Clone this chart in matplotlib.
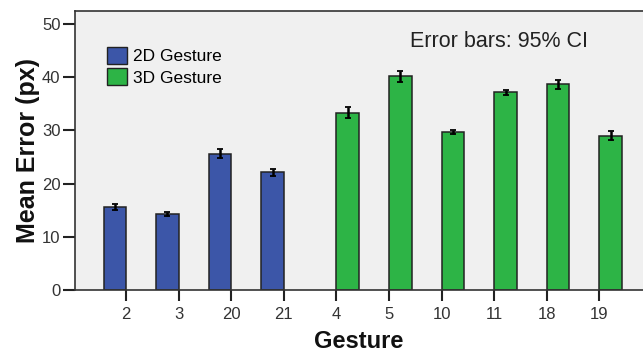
import numpy as np
import matplotlib
matplotlib.use("Agg")
import matplotlib.pyplot as plt
from matplotlib.patches import Patch

plt.rcParams['font.family'] = ['Liberation Sans', 'DejaVu Sans']

gestures = ['2', '3', '20', '21', '4', '5', '10', '11', '18', '19']
mean_2d = [15.6, 14.3, 25.6, 22.1]
ci_2d = [0.5, 0.4, 0.9, 0.7]
mean_3d = [33.3, 40.1, 29.7, 37.1, 38.6, 29.0]
ci_3d = [1.0, 1.05, 0.4, 0.55, 0.9, 0.8]

blue = '#3C56A8'
green = '#2DB446'

fig = plt.figure(figsize=(6.43, 3.55), dpi=100)
ax = fig.add_axes([75 / 643, 65 / 355, (643 - 75) / 643, 279 / 355])
ax.set_facecolor('#F0F0F0')

x = np.arange(len(gestures))
w = 0.43
x2 = x[:len(mean_2d)]
x3 = x[len(mean_2d):]

ax.bar(x2, mean_2d, width=-w, align='edge', color=blue, edgecolor='#222222', linewidth=1.1, zorder=2)
ax.bar(x3, mean_3d, width=w, align='edge', color=green, edgecolor='#222222', linewidth=1.1, zorder=2)
ax.errorbar(x2 - w / 2, mean_2d, yerr=ci_2d, fmt='none', ecolor='black', elinewidth=1.8, capsize=2.5, capthick=1.3, zorder=3)
ax.errorbar(x3 + w / 2, mean_3d, yerr=ci_3d, fmt='none', ecolor='black', elinewidth=1.8, capsize=2.5, capthick=1.3, zorder=3)

ax.set_xlim(-0.974, 9.83)
ax.set_ylim(0, 52.4)
ax.set_yticks([0, 10, 20, 30, 40, 50])
ax.set_xticks(x)
ax.set_xticklabels(gestures)
ax.tick_params(axis='x', length=8, width=1.5, color='#222222', labelsize=12, pad=4, labelcolor='#333333')
ax.tick_params(axis='y', length=9, width=1.5, color='#222222', labelsize=12, pad=1.5, labelcolor='#333333')
for s in ['left', 'bottom', 'top']:
    ax.spines[s].set_color('#333333')
    ax.spines[s].set_linewidth(1.2)
ax.spines['right'].set_visible(False)

ax.set_xlabel('Gesture', fontsize=17, fontweight='bold', labelpad=6, color='#111111')
ax.set_ylabel('Mean Error (px)', fontsize=18, fontweight='bold', labelpad=1, color='#111111')

handles = [Patch(facecolor=blue, edgecolor='#222222', label='2D Gesture'),
           Patch(facecolor=green, edgecolor='#222222', label='3D Gesture')]
ax.legend(handles=handles, loc='upper left', bbox_to_anchor=(0.056, 0.872), frameon=False,
          fontsize=12.5, handlelength=1.15, handleheight=1.15, handletextpad=0.35, labelspacing=0.23,
          borderaxespad=0, borderpad=0)

ax.text(0.59, 0.871, 'Error bars: 95% CI', transform=ax.transAxes, fontsize=15.5,
        color='#222222', va='baseline')

fig.savefig('out.png', dpi=100)
